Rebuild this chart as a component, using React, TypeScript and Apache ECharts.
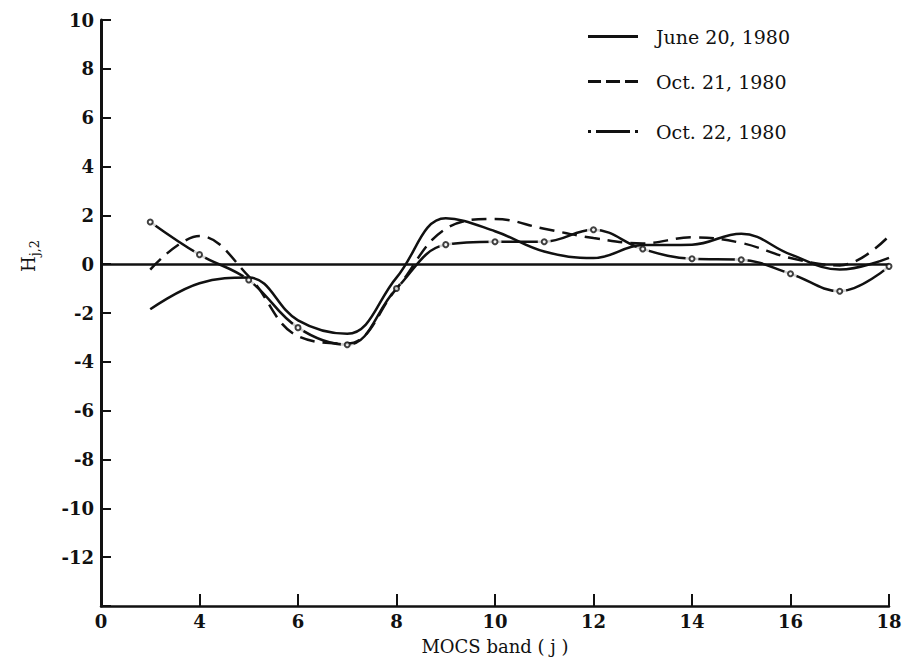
import React, { useEffect, useRef } from "react";
import * as echarts from "echarts";

// MOCS band numbers at which the coefficients were evaluated
const bands = [3, 4, 5, 6, 7, 8, 9, 10, 11, 12, 13, 14, 15, 16, 17, 18];

// H(j,2) coefficient for each date
const june20 = [-1.85, -0.78, -0.55, -2.3, -2.85, -0.55, 1.88, 1.35, 0.52, 0.25, 0.78, 0.8, 1.25, 0.4, -0.22, 0.26];
const oct21 = [-0.22, 1.15, -0.5, -2.95, -3.25, -1.0, 1.45, 1.85, 1.45, 1.07, 0.85, 1.1, 0.87, 0.25, -0.05, 1.15];
const oct22 = [1.73, 0.39, -0.65, -2.6, -3.3, -1.0, 0.8, 0.92, 0.92, 1.41, 0.62, 0.22, 0.18, -0.39, -1.11, -0.09];

const seriesNames = ["June 20, 1980", "Oct. 21, 1980", "Oct. 22, 1980"];

// legend swatches: solid, dashed, and dot-dash-dot
const legendIcons = [
  "path://M0,0h50v3h-50z",
  "path://M0,0h13v3h-13zM18,0h14v3h-14zM37,0h13v3h-13z",
  "path://M0,0h3v3h-3zM8,0h34v3h-34zM47,0h3v3h-3z",
];

const FONT = "DejaVu Serif";
const INK = "#111";

const pairs = (ys: number[]) => bands.map((b, i) => [b, ys[i]]);

export default function App() {
  const ref = useRef<HTMLDivElement>(null);

  useEffect(() => {
    if (!ref.current) return;
    const chart = echarts.init(ref.current, undefined, { renderer: "svg" });

    const legendTops = [22, 67, 117];
    const legends = seriesNames.map((name, i) => ({
      orient: "horizontal",
      left: 583,
      top: legendTops[i],
      itemWidth: 50,
      itemHeight: 3,
      itemStyle: { color: INK },
      textStyle: { fontFamily: FONT, fontSize: 19, color: INK, padding: [0, 0, 0, 13] },
      selectedMode: false,
      data: [{ name, icon: legendIcons[i] }],
    }));

    const tickLabel = { fontFamily: FONT, fontSize: 18, fontWeight: "bold", color: INK };

    chart.setOption({
      animation: false,
      backgroundColor: "#fff",
      grid: { left: 101, right: 15, top: 20, bottom: 60, containLabel: false, outerBoundsMode: "none" },
      legend: legends,
      xAxis: {
        type: "value",
        min: 2,
        max: 18,
        interval: 2,
        name: "MOCS band ( j )",
        nameLocation: "middle",
        nameGap: 31,
        nameTextStyle: { fontFamily: FONT, fontSize: 18, color: INK },
        splitLine: { show: false },
        axisLine: { show: true, onZero: false, lineStyle: { color: INK, width: 2.5 } },
        axisTick: { show: true, inside: true, length: 12, lineStyle: { color: INK, width: 2 } },
        axisLabel: {
          margin: 6,
          ...tickLabel,
          formatter: (v: number) => (v === 2 ? "0" : String(v)),
        },
      },
      yAxis: {
        type: "value",
        min: -14,
        max: 10,
        interval: 2,
        splitLine: { show: false },
        axisLine: { show: true, onZero: false, lineStyle: { color: INK, width: 3 } },
        axisTick: { show: true, inside: true, length: 10, lineStyle: { color: INK, width: 2 } },
        axisLabel: {
          margin: 7,
          ...tickLabel,
          formatter: (v: number) => (v === -14 ? "" : String(v)),
        },
      },
      graphic: [
        {
          type: "text",
          x: 30,
          y: 256,
          rotation: Math.PI / 2,
          style: {
            text: "{h|H}{s|j,2}",
            align: "center",
            verticalAlign: "middle",
            fill: INK,
            rich: {
              h: { fontFamily: FONT, fontSize: 18, lineHeight: 22, verticalAlign: "top", fill: INK },
              s: { fontFamily: FONT, fontSize: 13, lineHeight: 14, verticalAlign: "bottom", fill: INK },
            },
          },
        },
      ],
      series: [
        {
          name: seriesNames[0],
          type: "line",
          z: 4,
          smooth: 0.4,
          symbol: "none",
          data: pairs(june20),
          lineStyle: { color: INK, width: 2.5, type: "solid" },
          itemStyle: { color: INK },
          markLine: {
            silent: true,
            symbol: ["none", "none"],
            label: { show: false },
            lineStyle: { color: INK, width: 2.5, type: "solid" },
            data: [{ yAxis: 0 }],
          },
        },
        {
          name: seriesNames[1],
          type: "line",
          z: 4,
          smooth: 0.4,
          symbol: "none",
          data: pairs(oct21),
          lineStyle: { color: INK, width: 2.5, type: [15, 8] },
          itemStyle: { color: INK },
        },
        {
          name: seriesNames[2],
          type: "line",
          z: 2,
          smooth: 0.4,
          symbol: "none",
          data: pairs(oct22),
          lineStyle: { color: INK, width: 2.5, type: "solid" },
          itemStyle: { color: INK },
        },
        {
          // white halos that open a gap in the dot-dash curve around each point
          name: "oct22-gap",
          type: "scatter",
          z: 3,
          silent: true,
          symbol: "circle",
          symbolSize: 13,
          data: pairs(oct22),
          itemStyle: { color: "#fff" },
        },
        {
          name: "oct22-points",
          type: "scatter",
          z: 5,
          silent: true,
          symbol: "emptyCircle",
          symbolSize: 5,
          data: pairs(oct22),
          itemStyle: { color: INK, borderColor: INK, borderWidth: 1.5 },
        },
      ],
    });

    return () => chart.dispose();
  }, []);

  return (
    <div
      ref={ref}
      style={{ position: "fixed", left: 0, top: 0, width: 904, height: 666, background: "#fff" }}
    />
  );
}
